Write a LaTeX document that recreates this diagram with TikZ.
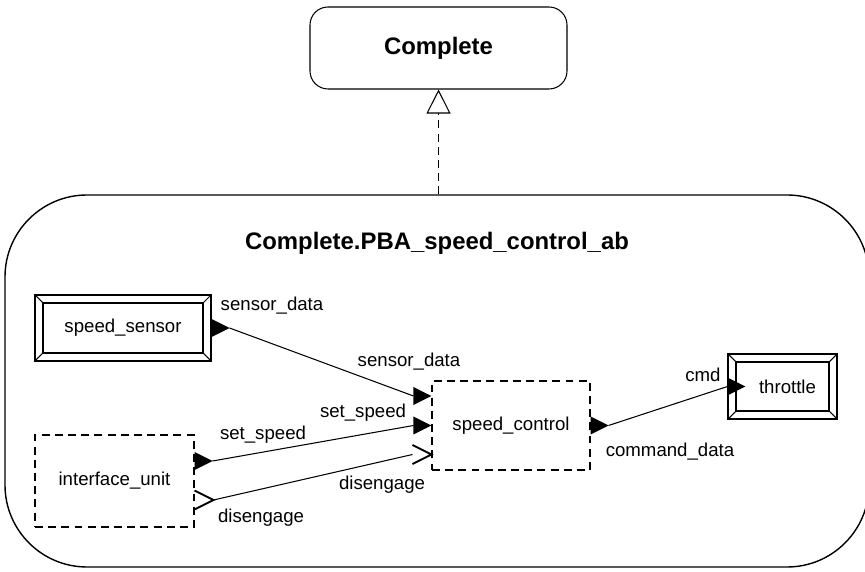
\documentclass[tikz,border=0pt]{standalone}
\usepackage{fontspec}
\setmainfont{Liberation Sans}
\usetikzlibrary{arrows.meta,shapes.geometric}

\tikzset{
  lbl/.style={inner sep=0pt},
  ttl/.style={font=\fontsize{13.6}{16}\selectfont\bfseries},
  dashbox/.style={draw, dash pattern=on 4.5pt off 3pt},
  devbox/.style={draw, path picture={
      \draw ([shift={(0.16,0.16)}]path picture bounding box.south west)
        rectangle ([shift={(-0.16,-0.16)}]path picture bounding box.north east);
      \draw (path picture bounding box.south west) -- ++(0.16,0.16);
      \draw (path picture bounding box.north west) -- ++(0.16,-0.16);
      \draw (path picture bounding box.south east) -- ++(-0.16,0.16);
      \draw (path picture bounding box.north east) -- ++(-0.16,-0.16);}},
  port/.style={isosceles triangle, isosceles triangle stretches,
    minimum width=0.36cm, minimum height=0.36cm, inner sep=0pt, outer sep=0pt, fill},
  chev/.style={port, fill=none, minimum width=0.38cm, minimum height=0.38cm},
  chevline/.style={line width=1.1pt, line join=miter},
}

\begin{document}
\begin{tikzpicture}[line width=0.6pt, font=\fontsize{10.6}{12.7}\selectfont]
    \useasboundingbox (0,0) rectangle (17.3,11.44);
    % \draw[help lines] (0,0) grid (17.3,11.44);
    \node[draw, rounded corners=0.36cm, minimum width=5.14cm, minimum height=1.64cm, ttl] (Cp) at (8.77,10.48) {Complete};
    \node[draw, rounded corners=1.64cm, minimum width=17.28cm, minimum height=7.44cm, line width=0.8pt] (Pb) at (8.74,3.82) {};
    \node[ttl, inner sep=0pt] (PbT) at (8.74,6.58) {Complete.PBA\_speed\_control\_ab};
    \draw[dash pattern=on 4.5pt off 3pt, -{Triangle[open, length=0.48cm, width=0.48cm]}] (Pb.north -| Cp.south) -- (Cp.south);

    \node[devbox, minimum width=3.52cm, minimum height=1.32cm] (Ss) at (2.46,4.88) {speed\_sensor};
    \node[devbox, minimum width=2.18cm, minimum height=1.30cm] (Th) at (15.65,3.71) {\hspace{0.2cm}throttle};
    \node[dashbox, minimum width=3.16cm, minimum height=1.78cm] (Sc) at (10.22,2.93) {speed\_control};
    \node[dashbox, minimum width=3.18cm, minimum height=1.84cm] (Iu) at (2.29,1.82) {interface\_unit};

    % ports
    \node[port, anchor=lower side] (Ss1) at (Ss.east) {};
    \node[port, anchor=apex] (Sc1) at ([yshift=0.59cm]Sc.west) {};
    \node[port, anchor=apex] (Sc2) at (Sc.west) {};
    \node[chev, anchor=apex] (Sc3) at ([yshift=-0.58cm]Sc.west) {};
    \node[port, anchor=lower side] (Sc4) at (Sc.east) {};
    \node[port, anchor=lower side] (Iu1) at ([yshift=0.4cm]Iu.east) {};
    \node[chev, anchor=lower side] (Iu2) at ([yshift=-0.38cm]Iu.east) {};
    \node[port, anchor=lower side] (Th1) at (Th.west) {};
    \draw[chevline] (Sc3.left corner) -- (Sc3.apex) -- (Sc3.right corner);
    \draw[chevline] (Iu2.left corner) -- (Iu2.apex) -- (Iu2.right corner);

    \draw (Ss1.apex) -- (Sc1.lower side);
    \draw (Iu1.apex) -- (Sc2.lower side);
    \draw (Iu2.apex) -- (Sc3.lower side);
    \draw (Sc4.apex) -- (Th1.lower side);

    \node[lbl] (L1) at (5.44,5.32) {sensor\_data};
    \node[lbl] (L2) at (8.18,4.20) {sensor\_data};
    \node[lbl] (L3) at (5.26,2.74) {set\_speed};
    \node[lbl] (L4) at (7.26,3.18) {set\_speed};
    \node[lbl] (L5) at (5.22,1.08) {disengage};
    \node[lbl] (L6) at (7.64,1.74) {disengage};
    \node[lbl] (L7) at (14.06,3.94) {cmd};
    \node[lbl] (L8) at (13.40,2.40) {command\_data};
\end{tikzpicture}
\end{document}
